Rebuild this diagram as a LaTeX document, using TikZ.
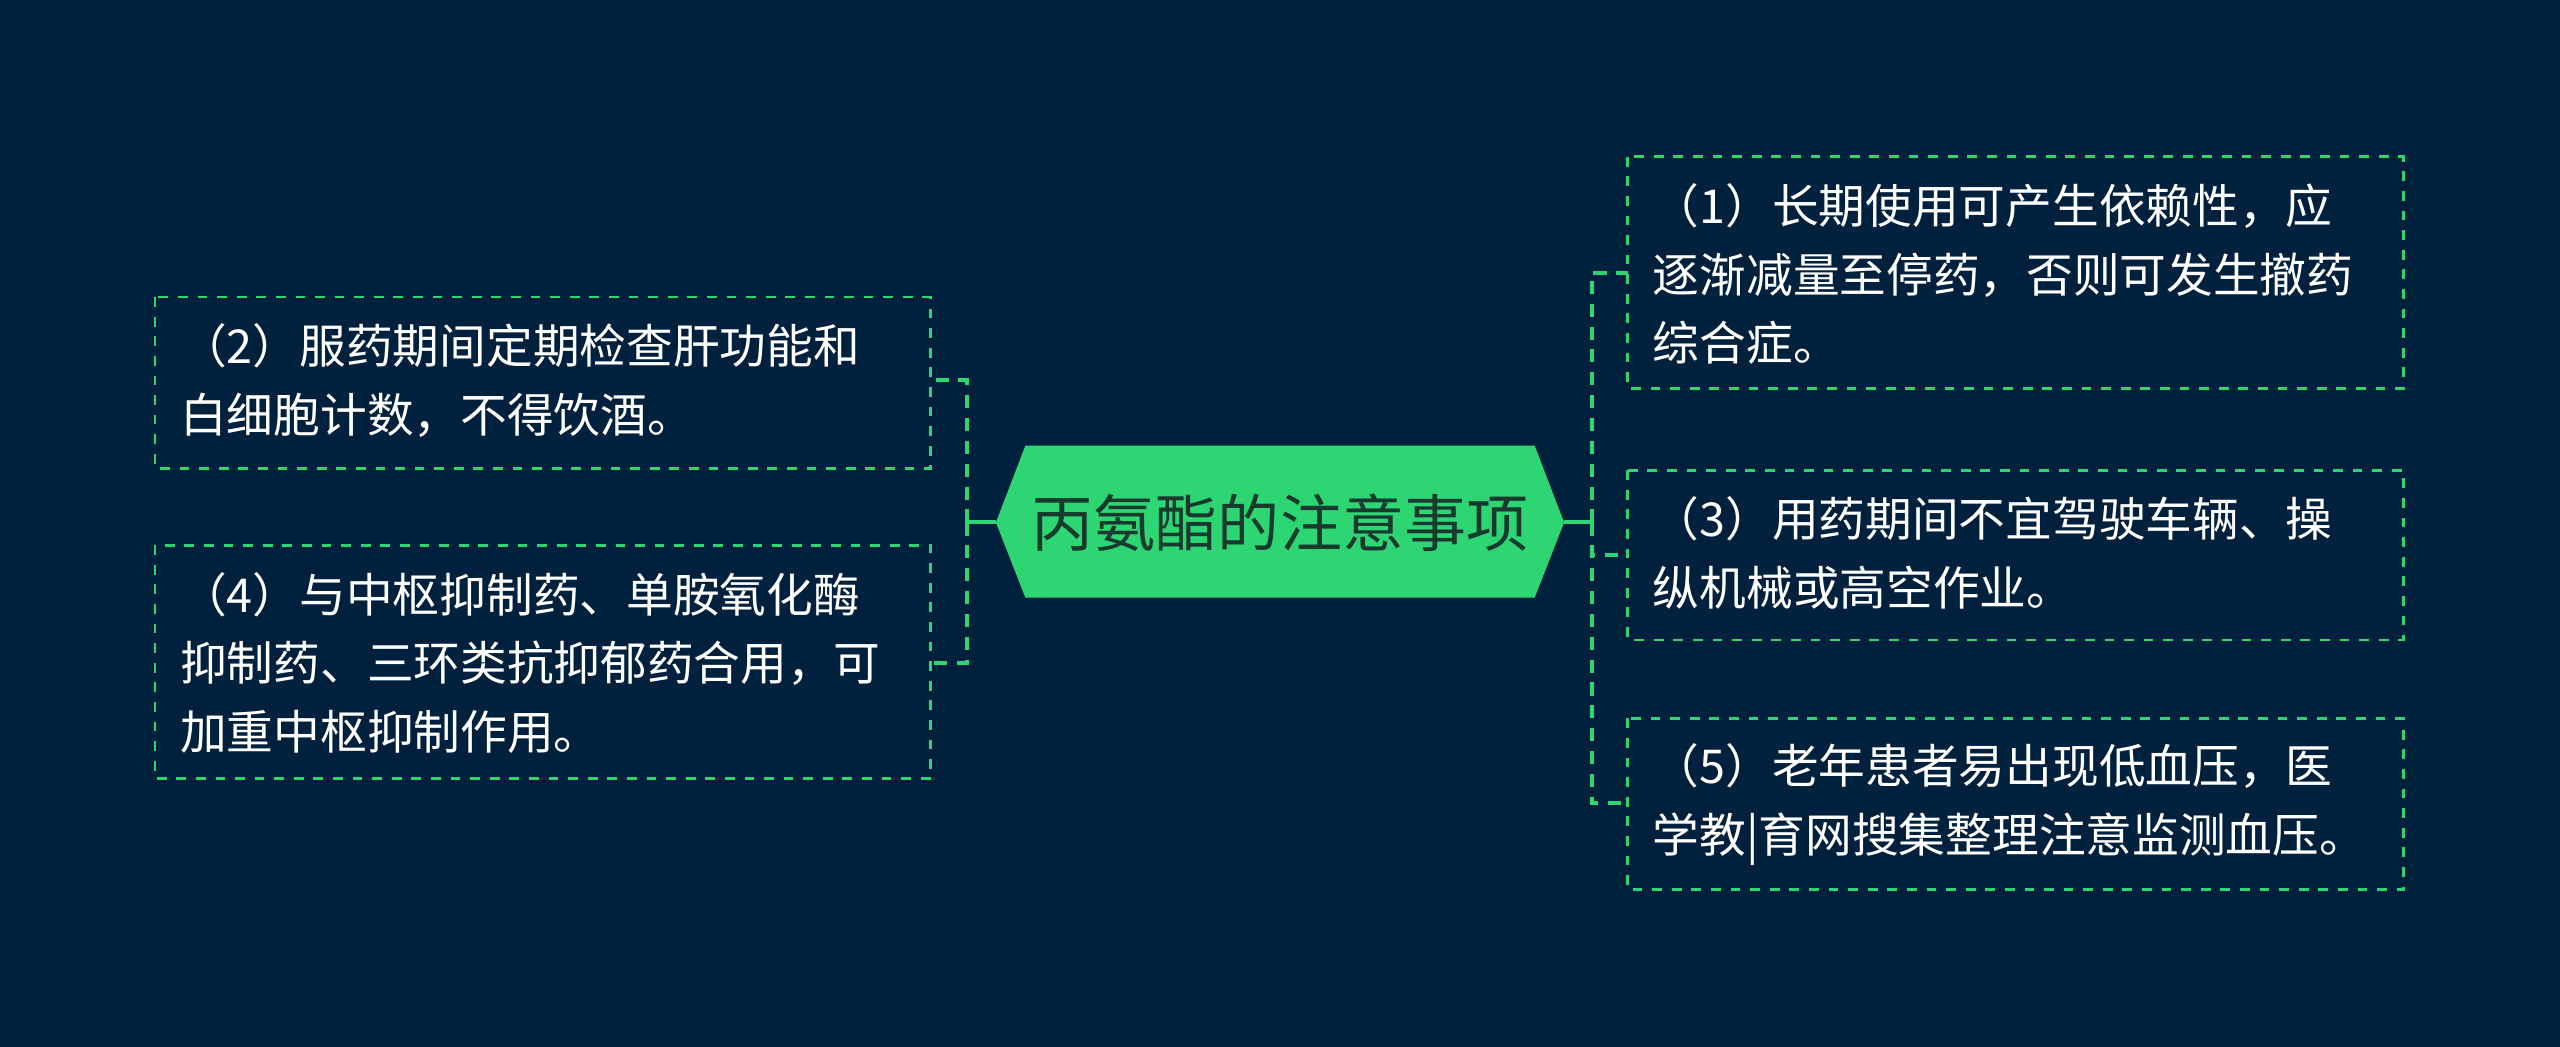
\documentclass[tikz,border=0pt]{standalone}
\usepackage{fontspec}
\newfontfamily\cjk{Noto Sans CJK SC}
\definecolor{bg}{HTML}{00213D}
\definecolor{gr}{HTML}{2ED573}
\definecolor{dk}{HTML}{173A2E}
\begin{document}
\begin{tikzpicture}[x=0.5pt,y=-0.5pt,
 box/.style={draw=gr,dashed,line width=0.8pt,inner sep=0pt},
 txt/.style={anchor=north west,align=left,text=white,font=\cjk\fontsize{14.3}{21}\selectfont,inner sep=0pt},
 con/.style={draw=gr,line width=1.2pt,dashed,dash pattern=on 4pt off 3pt}]
\fill[bg] (0,0) rectangle (1568,641);
\useasboundingbox (0,0) rectangle (1568,641);
% center
\fill[gr] (610,320)--(628,273)--(940,273)--(958,320)--(940,366)--(628,366)--cycle;
\node[font=\cjk\fontsize{19}{21}\selectfont,text=dk] (c) at (784,320) {丙氨酯的注意事项};
\coordinate (cr) at (958,320); \coordinate (cl) at (610,320);
% boxes
\draw[box] (997,96) rectangle (1472,238); \coordinate (b1) at (997,167);
\node[txt] (t1) at (1012,112) {（1）长期使用可产生依赖性，应\\逐渐减量至停药，否则可发生撤药\\综合症。};
\draw[box] (997,288) rectangle (1472,392); \coordinate (b3) at (997,340);
\node[txt] (t3) at (1012,304) {（3）用药期间不宜驾驶车辆、操\\纵机械或高空作业。};
\draw[box] (997,440) rectangle (1472,545); \coordinate (b5) at (997,492);
\node[txt] (t5) at (1012,455) {（5）老年患者易出现低血压，医\\学教|育网搜集整理注意监测血压。};
\draw[box] (95,182) rectangle (570,287); \coordinate (b2) at (570,233);
\node[txt] (t2) at (110,198) {（2）服药期间定期检查肝功能和\\白细胞计数，不得饮酒。};
\draw[box] (95,334) rectangle (570,477); \coordinate (b4) at (570,406);
\node[txt] (t4) at (110,350) {（4）与中枢抑制药、单胺氧化酶\\抑制药、三环类抗抑郁药合用，可\\加重中枢抑制作用。};
% connectors
\draw[gr,line width=1.2pt] (cr) -- (975,320);
\draw[con] (975,320) |- (b1);
\draw[con] (975,320) |- (b3);
\draw[con] (975,320) |- (b5);
\draw[gr,line width=1.2pt] (cl) -- (592,320);
\draw[con] (592,320) |- (b2);
\draw[con] (592,320) |- (b4);
\end{tikzpicture}
\end{document}
